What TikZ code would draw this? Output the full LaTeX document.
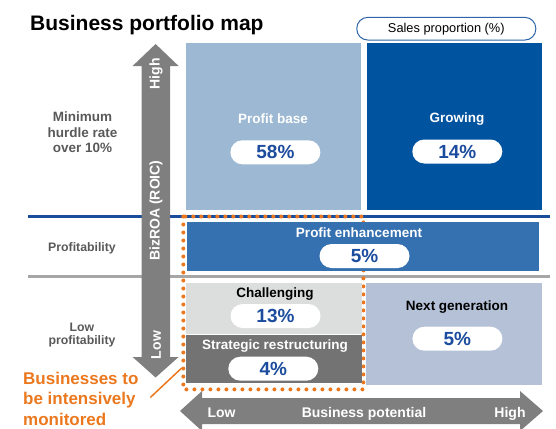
\documentclass[tikz,border=0pt]{standalone}
\usepackage{fontspec}
\setmainfont{Liberation Sans}
\definecolor{basefill}{RGB}{156,184,211}
\definecolor{growfill}{RGB}{0,83,159}
\definecolor{enhfill}{RGB}{53,113,176}
\definecolor{chalfill}{RGB}{220,221,221}
\definecolor{restfill}{RGB}{115,115,115}
\definecolor{nextfill}{RGB}{180,193,215}
\definecolor{axisgray}{RGB}{127,127,127}
\definecolor{lineblue}{RGB}{26,76,156}
\definecolor{linegray}{RGB}{166,166,166}
\definecolor{pctblue}{RGB}{27,76,158}
\definecolor{watchorange}{RGB}{235,120,30}
\definecolor{sidegray}{RGB}{89,89,89}
\definecolor{pillblue}{RGB}{46,100,168}

\begin{document}
\begin{tikzpicture}[x=1pt,y=-1pt]
\tikzstyle{every node}+=[inner sep=0pt]
\tikzstyle{box}=[rectangle,anchor=north west]
\tikzstyle{tag}=[font=\bfseries\fontsize{13.5}{16}\selectfont]
\tikzstyle{pill}=[fill=white,rounded corners=12pt,minimum width=90pt,minimum height=24pt,text=pctblue,font=\bfseries\fontsize{19}{22}\selectfont]
\tikzstyle{side}=[text=sidegray,align=center,font=\bfseries\fontsize{12.3}{13}\selectfont]
\tikzstyle{axis}=[text=white,font=\bfseries\fontsize{14}{16}\selectfont]
\useasboundingbox (0,0) rectangle (556,428);
\draw (30,31) node [anchor=base west,font=\bfseries\fontsize{21}{25}\selectfont] (title) {Business portfolio map};
\node [draw=pillblue,line width=1pt,rounded corners=11pt,minimum width=179pt,minimum height=22.7pt,font=\fontsize{12.8}{15}\selectfont] (sales) at (446.3,28.7) {Sales proportion (\%)};
\draw [lineblue,line width=2.5pt] (28,216.7) -- (550,216.7);
\draw [linegray,line width=3pt] (28,276.7) -- (550,276.7);
\node [box,minimum width=179.7pt,minimum height=172.5pt] (watch) at (183.3,216.5) {};
\draw [watchorange,line width=4pt,dash pattern=on 0pt off 8pt,line cap=round] (watch.north west) rectangle (watch.south east);
\node [box,fill=basefill,minimum width=175pt,minimum height=167.3pt] (base) at (185.7,42.7) {};
\node [box,fill=growfill,minimum width=175.3pt,minimum height=167.3pt] (grow) at (366.7,42.7) {};
\node [box,fill=enhfill,minimum width=352pt,minimum height=49pt] (enh) at (186.7,221.7) {};
\node [box,fill=chalfill,minimum width=176pt,minimum height=50.6pt] (chal) at (185.7,282.7) {};
\node [box,fill=restfill,minimum width=176pt,minimum height=47.5pt] (rest) at (185.7,335) {};
\node [box,fill=nextfill,minimum width=176pt,minimum height=101.6pt] (next) at (366,282.7) {};
\node [tag,text=white] (baselbl) at (273,119) {Profit base};
\node [pill] (basepct) at (275.4,152.3) {58\%};
\node [tag,text=white] (growlbl) at (457,119) {Growing};
\node [pill] (growpct) at (457.3,151.5) {14\%};
\node [tag,text=white] (enhlbl) at (359,233) {Profit enhancement};
\node [pill] (enhpct) at (364.5,256) {5\%};
\node [tag] (challbl) at (275,294) {Challenging};
\node [pill] (chalpct) at (275.5,316) {13\%};
\node [tag,text=white] (restlbl) at (275,346.5) {Strategic restructuring};
\node [pill] (restpct) at (273.3,368.7) {4\%};
\node [tag] (nextlbl) at (457,307.5) {Next generation};
\node [pill] (nextpct) at (457.4,338.7) {5\%};
\fill [axisgray] (155.6,44) -- (178.6,66) -- (170,66) -- (170,357) -- (178.6,357) -- (155.6,377.5) -- (132.6,357) -- (141.7,357) -- (141.7,66) -- (132.6,66) -- cycle;
\fill [axisgray] (180,411) -- (202,391) -- (202,398) -- (520,398) -- (520,391) -- (543,411) -- (520,431) -- (520,424) -- (202,424) -- (202,431) -- cycle;
\node [axis,rotate=90] (roahi) at (156,74) {High};
\node [axis,rotate=90] (roa) at (156,210.5) {BizROA (ROIC)};
\node [axis,rotate=90] (roalo) at (156,345) {Low};
\node [axis,anchor=base] (potlo) at (221.6,417) {Low};
\node [axis,anchor=base] (pot) at (364,417) {Business potential};
\node [axis,anchor=base] (pothi) at (510,417) {High};
\node [side,font=\bfseries\fontsize{13.5}{15.5}\selectfont] (hurdle) at (82.5,132.4) {Minimum\\hurdle rate\\over 10\%};
\node [side] (profit) at (82,248.5) {Profitability};
\node [side] (lowprofit) at (82,334.7) {Low\\profitability};
\node [anchor=north west,align=left,text=watchorange,font=\bfseries\fontsize{17}{20.5}\selectfont] (watchlbl) at (23,371.5) {Businesses to\\be intensively\\monitored};
\coordinate (leadfoot) at (150.3,397.5);
\coordinate (leadtip) at (181.7,368);
\draw [watchorange,line width=1.5pt] (leadfoot) -- (leadtip);
\end{tikzpicture}
\end{document}
